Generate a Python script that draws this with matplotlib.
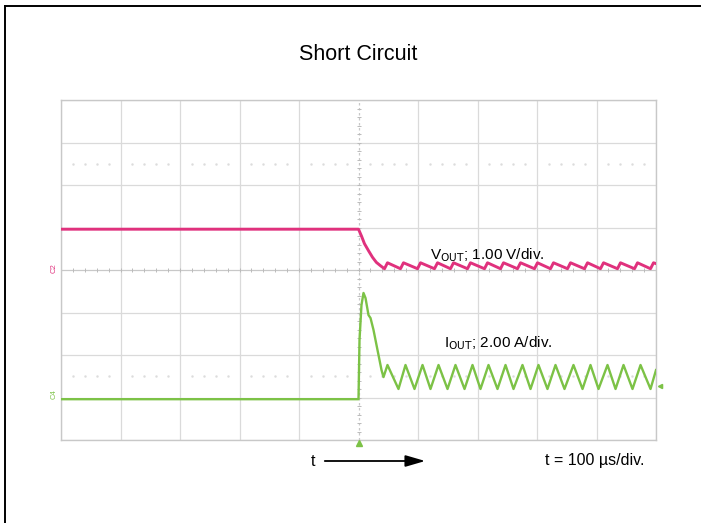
"""Short-circuit scope capture: VOUT and IOUT traces on a scope-style grid."""

import matplotlib.pyplot as plt
from matplotlib.lines import Line2D

plt.rcParams["font.family"] = ["Liberation Sans", "DejaVu Sans"]

# scope settings
T_PER_DIV = 100.0      # us/div
V_PER_DIV = 1.00       # V/div
I_PER_DIV = 2.00       # A/div
V_ZERO_DIV = 0.0       # C2 ground marker position (div)
I_ZERO_DIV = -3.04     # C4 ground marker position (div)

# VOUT trace (us, V)
v_t = [-500, 0, 5, 10, 17, 23.5, 30, 37, 43.7,
       48.7, 70.6, 75.6, 99.2, 104.2, 127.7, 132.8, 154.6, 159.7, 183.2,
       188.2, 211.8, 216.8, 238.7, 243.7, 267.2, 272.3, 295.8, 300.8, 322.7,
       327.7, 351.3, 356.3, 379.8, 384.9, 406.7, 411.8, 435.3, 440.3, 463.9,
       468.9, 490.8, 495.8, 500]
v_out = [0.96, 0.96, 0.80, 0.62, 0.45, 0.30, 0.18, 0.10, 0.03,
         0.17, 0.03, 0.17, 0.03, 0.17, 0.03, 0.17, 0.03, 0.17, 0.03,
         0.17, 0.03, 0.17, 0.03, 0.17, 0.03, 0.17, 0.03, 0.17, 0.03,
         0.17, 0.03, 0.17, 0.03, 0.17, 0.03, 0.17, 0.03, 0.17, 0.03,
         0.17, 0.03, 0.17, 0.15]

# IOUT trace (us, A)
i_t = [-500, 0, 1.7, 5.0, 8.4, 11.8, 16.8, 20.2, 25.2, 31.9, 38.7, 42.0,
       48.7, 67.2, 79.0, 94.1, 107.6, 121.0, 134.5, 149.6, 163.0, 178.2,
       191.6, 205.0, 218.5, 233.6, 247.1, 260.5, 275.6, 289.1, 302.5, 317.6,
       331.1, 346.2, 361.3, 376.5, 389.9, 403.4, 418.5, 432.0, 445.4, 460.5,
       474.0, 490.8, 500]
i_out = [0.0, 0.0, 2.79, 4.43, 5.00, 4.76, 3.96, 3.82, 3.26, 2.32, 1.37, 1.04,
         1.61, 0.48, 1.61, 0.48, 1.61, 0.48, 1.61, 0.48, 1.61, 0.48,
         1.61, 0.48, 1.61, 0.48, 1.61, 0.48, 1.61, 0.48, 1.61, 0.48,
         1.61, 0.48, 1.61, 0.48, 1.61, 0.48, 1.61, 0.48, 1.61, 0.48,
         1.61, 0.48, 1.37]

PINK = "#e0317d"
GREEN = "#7cc246"
GRID = "#dadada"

fig = plt.figure(figsize=(7.01, 5.23), dpi=100)
ax = fig.add_axes([61 / 701, 1 - 440 / 523, 595 / 701, 340 / 523])

# grid
for x in range(-5, 6):
    if x != 0:
        ax.axvline(x, color=GRID, lw=0.9, zorder=0)
for y in range(-4, 5):
    if y != 0:
        ax.axhline(y, color=GRID, lw=0.9, zorder=0)
ax.axhline(0, color="#c8c8c8", lw=0.9, zorder=0)
ax.axvline(0, color="#c8c8c8", lw=0.9, ls=(0, (2, 2)), zorder=0)
# minor tick dots along center lines and the dotted +/-2.5 div rows
minor = [k / 5 for k in range(-25, 26)]
ax.plot(minor, [0] * len(minor), "|", color="#bbbbbb", ms=3, mew=0.7, zorder=0)
ax.plot([0] * 41, [k / 5 for k in range(-20, 21)], "_", color="#bbbbbb", ms=3, mew=0.7, zorder=0)
dots = [k / 5 for k in range(-24, 25) if k % 5 != 0]
for yy in (2.5, -2.5):
    ax.plot(dots, [yy] * len(dots), ".", color="#dcdcdc", ms=1.5, zorder=0)

# traces
ax.plot([t / T_PER_DIV for t in v_t], [V_ZERO_DIV + v / V_PER_DIV for v in v_out],
        color=PINK, lw=2.1, solid_joinstyle="round", zorder=3)
ax.plot([t / T_PER_DIV for t in i_t], [I_ZERO_DIV + i / I_PER_DIV for i in i_out],
        color=GREEN, lw=1.7, solid_joinstyle="round", zorder=3)

ax.set_xlim(-5, 5)
ax.set_ylim(-4, 4)
ax.set_xticks([])
ax.set_yticks([])
for s in ax.spines.values():
    s.set_color("#c8c8c8")
    s.set_linewidth(1.0)

# channel / trigger markers
ax.text(-5.12, V_ZERO_DIV + 0.05, "C2", color=PINK, fontsize=5.5, rotation=90,
        ha="center", va="center", clip_on=False)
ax.text(-5.12, I_ZERO_DIV + 0.12, "C4", color=GREEN, fontsize=5.5, rotation=90,
        ha="center", va="center", clip_on=False)
ax.plot([0], [-4.06], marker="^", color=GREEN, ms=4, clip_on=False, zorder=4)
ax.plot([5.07], [-2.73], marker="<", color=GREEN, ms=3, clip_on=False, zorder=4)

# labels
ax.text(1.21, 0.35, r"V$_{\mathrm{OUT}}$; 1.00 V/div.", fontsize=11, va="center")
ax.text(1.43, -1.72, r"I$_{\mathrm{OUT}}$; 2.00 A/div.", fontsize=11, va="center")

fig.text(358 / 701, 1 - 55 / 523, "Short Circuit", fontsize=15.5, ha="center", va="center")
fig.text(313 / 701, 1 - 461 / 523, "t", fontsize=11.5, ha="center", va="center")
ax.annotate("", xy=(428 / 701, 1 - 461 / 523), xytext=(322 / 701, 1 - 461 / 523),
            xycoords="figure fraction", textcoords="figure fraction",
            arrowprops=dict(arrowstyle="-|>,head_length=1.2,head_width=0.35",
                            color="black", lw=1.3))
fig.text(545 / 701, 1 - 461 / 523, "t = 100 µs/div.", fontsize=11.5, ha="left", va="center")

# outer border (left and top edges)
fig.add_artist(Line2D([5 / 701, 5 / 701], [0, 1 - 6 / 523], color="black", lw=1.4))
fig.add_artist(Line2D([5 / 701, 1], [1 - 6 / 523, 1 - 6 / 523], color="black", lw=1.4))

fig.savefig("out.png", dpi=100)
